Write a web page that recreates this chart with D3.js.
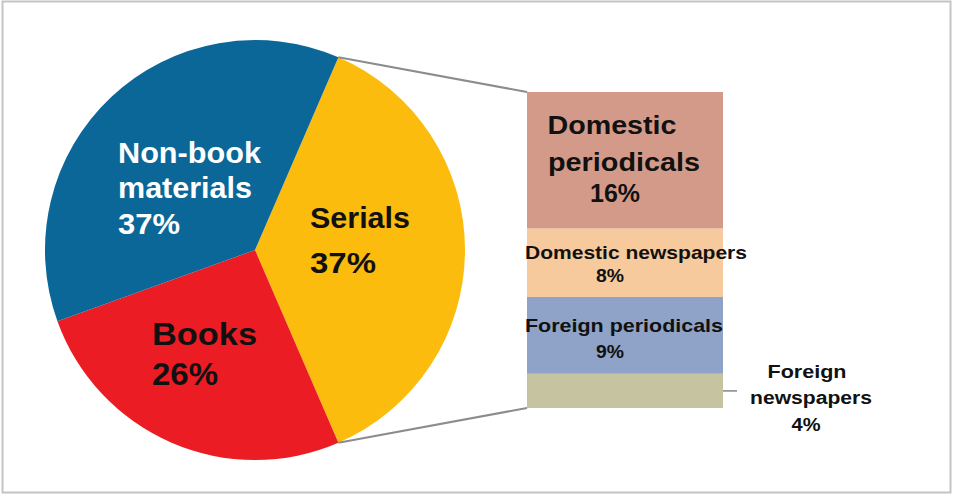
<!DOCTYPE html>
<html><head><meta charset="utf-8">
<script src="https://cdn.jsdelivr.net/npm/d3@7"></script>
<style>body{margin:0;background:#fff}svg{display:block}text{font-family:"Liberation Sans",Arial,sans-serif}</style>
</head><body>
<svg id="c" width="953" height="495"></svg>
<script>
const pieCategories = ["Serials", "Books", "Non-book materials"];
const pieValues = [37, 26, 37];
const pieColors = ["#FBBC0D", "#EC1C24", "#0B6797"];
const barCategories = ["Domestic periodicals", "Domestic newspapers", "Foreign periodicals", "Foreign newspapers"];
const barValues = [16, 8, 9, 4];
const barColors = ["#D49A89", "#F7CA9D", "#8FA2C7", "#C6C3A1"];

const svg = d3.select("#c");
svg.append("rect").attr("x", 2.5).attr("y", 1.5).attr("width", 948).attr("height", 491)
  .attr("fill", "#fff").attr("stroke", "#c4c4c4").attr("stroke-width", 2);

const cx = 255, cy = 250, r = 210;
const serialFrac = pieValues[0] / d3.sum(pieValues);
const start = Math.PI / 2 - serialFrac * Math.PI;
const pie = d3.pie().sort(null).startAngle(start).endAngle(start + 2 * Math.PI);
const arcs = pie(pieValues);
const arc = d3.arc().innerRadius(0).outerRadius(r);
const g = svg.append("g").attr("transform", `translate(${cx},${cy})`);
g.selectAll("path").data(arcs).join("path").attr("d", arc).attr("fill", (d, i) => pieColors[i]);

// bar of pie
const bx0 = 527, bx1 = 723, byTop = 92, byBot = 408;
const y = d3.scaleLinear().domain([0, d3.sum(barValues)]).range([byTop, byBot]);
const cum = d3.cumsum(barValues);
const segs = barValues.map((v, i) => ({v, i, y0: y(cum[i] - v), y1: y(cum[i])}));
svg.selectAll("rect.seg").data(segs).join("rect").attr("class", "seg")
  .attr("x", bx0).attr("width", bx1 - bx0).attr("y", d => d.y0).attr("height", d => d.y1 - d.y0)
  .attr("fill", d => barColors[d.i]);

// connector lines
const a0 = arcs[0];
const pt = a => [cx + r * Math.sin(a), cy - r * Math.cos(a)];
const pStart = pt(a0.startAngle), pEnd = pt(a0.endAngle);
svg.append("line").attr("x1", pStart[0]).attr("y1", pStart[1]).attr("x2", bx0).attr("y2", byTop)
  .attr("stroke", "#8c8c8c").attr("stroke-width", 2);
svg.append("line").attr("x1", pEnd[0]).attr("y1", pEnd[1]).attr("x2", bx0).attr("y2", byBot)
  .attr("stroke", "#8c8c8c").attr("stroke-width", 2);

function label(lines, opts) {
  const t = svg.append("text").attr("font-size", opts.size).attr("font-weight", opts.weight || "bold")
    .attr("fill", opts.fill || "#111").attr("text-anchor", opts.anchor || "start");
  lines.forEach(l => {
    const s = t.append("tspan").attr("x", l.x).attr("y", l.y).text(l.t);
    if (l.w) s.attr("textLength", l.w).attr("lengthAdjust", "spacingAndGlyphs");
  });
}
// pie labels
label([{t: "Non-book", x: 118, y: 163, w: 143}, {t: "materials", x: 118, y: 198, w: 134}, {t: pieValues[2] + "%", x: 118, y: 234, w: 62}],
  {size: 29, fill: "#fff"});
label([{t: pieCategories[0], x: 310, y: 228, w: 100}, {t: pieValues[0] + "%", x: 310, y: 273, w: 66}], {size: 29});
label([{t: pieCategories[1], x: 152, y: 345, w: 105}, {t: pieValues[1] + "%", x: 152, y: 385, w: 66}], {size: 32});

// bar labels
const s0 = segs[0], s1 = segs[1], s2 = segs[2], s3 = segs[3];
const m0 = (s0.y0 + s0.y1) / 2;
label([{t: "Domestic", x: 612, y: m0 - 26, w: 129}, {t: "periodicals", x: 624, y: m0 + 11, w: 152}, {t: barValues[0] + "%", x: 615, y: m0 + 42, w: 50}],
  {size: 25, anchor: "middle", weight: 600});
const m1 = (s1.y0 + s1.y1) / 2;
label([{t: "Domestic newspapers", x: 636, y: m1 - 4, w: 222}, {t: barValues[1] + "%", x: 610, y: m1 + 19, w: 28}],
  {size: 19, anchor: "middle"});
const m2 = (s2.y0 + s2.y1) / 2;
label([{t: "Foreign periodicals", x: 624, y: m2 - 3, w: 198}, {t: barValues[2] + "%", x: 610, y: m2 + 23, w: 28}],
  {size: 19, anchor: "middle"});
const m3 = (s3.y0 + s3.y1) / 2;
svg.append("line").attr("x1", bx1).attr("y1", m3).attr("x2", bx1 + 14).attr("y2", m3)
  .attr("stroke", "#666").attr("stroke-width", 1.2);
label([{t: "Foreign", x: 807, y: m3 - 13, w: 79}, {t: "newspapers", x: 811, y: m3 + 13, w: 122}, {t: barValues[3] + "%", x: 806, y: m3 + 40, w: 29}],
  {size: 18, anchor: "middle"});
</script>
</body></html>
